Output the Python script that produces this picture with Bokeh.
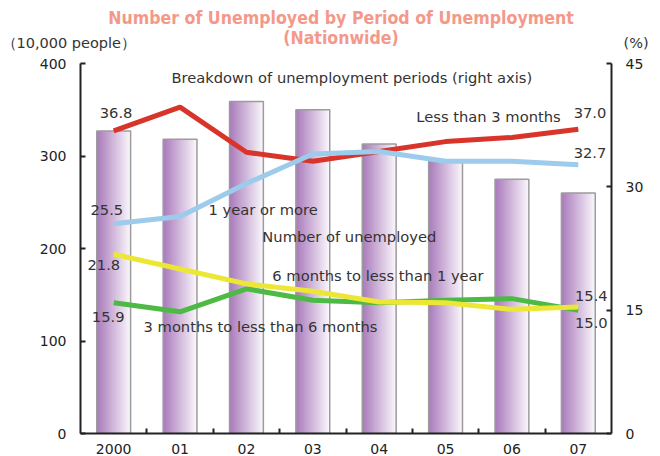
from bokeh.plotting import figure
from bokeh.models import Range1d, LinearAxis, FixedTicker, Label
from bokeh.layouts import column
from bokeh.embed import file_html
from bokeh.resources import INLINE

# ---- data ----
years = ["2000", "01", "02", "03", "04", "05", "06", "07"]
unemployed = [327, 318, 359, 350, 313, 294, 275, 260]          # 10,000 people (left axis)
less_3m = [36.8, 39.7, 34.2, 33.1, 34.3, 35.5, 36.0, 37.0]      # % (right axis)
one_year_plus = [25.5, 26.4, 30.4, 34.0, 34.3, 33.1, 33.1, 32.7]
m6_to_1y = [21.8, 20.0, 18.2, 17.3, 16.0, 15.9, 15.1, 15.4]
m3_to_6m = [15.9, 14.8, 17.6, 16.2, 15.9, 16.2, 16.4, 15.0]
left_ticks = [0, 100, 200, 300, 400]
right_ticks = [0, 15, 30, 45]

xc = [i + 0.5 for i in range(len(years))]

AX = "#222222"
FONT = "DejaVu Sans"
TXT = "#333333"
TITLE = "#f4998a"
W = 658
HEAD_H = 53

# ---- header (title + axis units) ----
head = figure(width=W, height=HEAD_H, x_range=Range1d(0, W), y_range=Range1d(0, HEAD_H),
              output_backend="svg", toolbar_location=None,
              min_border_left=0, min_border_right=0, min_border_top=0, min_border_bottom=0)
head.frame_align = False
head.axis.visible = False
head.xgrid.visible = False
head.ygrid.visible = False
head.outline_line_color = None


def hlab(x, y, s, **kw):
    opts = dict(text_font=FONT, text_font_size="14.5px", text_color=TXT,
                text_align="left", text_baseline="middle")
    opts.update(kw)
    head.add_layout(Label(x=x, y=y, text=s, **opts))


hlab(340.5, 36, "Number of Unemployed by Period of Unemployment", text_align="center",
     text_font="DejaVu Sans Condensed", text_font_style="bold", text_font_size="17.6px",
     text_color=TITLE)
hlab(340.5, 16, "(Nationwide)", text_align="center",
     text_font="DejaVu Sans Condensed", text_font_style="bold", text_font_size="17.6px",
     text_color=TITLE)
hlab(1, 11, "（10,000 people）")
hlab(623, 11, "(%)")

# ---- main chart ----
p = figure(frame_width=531, frame_height=370,
           x_range=Range1d(0, 8), y_range=Range1d(0, 400),
           output_backend="svg", toolbar_location=None,
           min_border_left=80, min_border_top=10, min_border_right=40,
           min_border_bottom=0)
p.frame_align = False
p.xgrid.visible = False
p.ygrid.visible = False
p.outline_line_color = None
p.background_fill_color = "white"

p.extra_y_ranges = {"pct": Range1d(0, 45)}

# left axis
p.yaxis.ticker = FixedTicker(ticks=left_ticks)
p.yaxis.axis_line_color = AX
p.yaxis.axis_line_width = 2
p.yaxis.major_tick_in = 5
p.yaxis.major_tick_out = 0
p.yaxis.major_tick_line_width = 2
p.yaxis.major_tick_line_color = AX
p.yaxis.minor_tick_line_color = None
p.yaxis.major_label_standoff = 14
p.yaxis.major_label_text_font = FONT
p.yaxis.major_label_text_font_size = "14px"
p.yaxis.major_label_text_color = AX

# right axis
ra = LinearAxis(y_range_name="pct", ticker=FixedTicker(ticks=right_ticks))
ra.axis_line_color = AX
ra.axis_line_width = 2
ra.major_tick_in = 5
ra.major_tick_out = 0
ra.major_tick_line_width = 2
ra.major_tick_line_color = AX
ra.minor_tick_line_color = None
ra.major_label_standoff = 14
ra.major_label_text_font = FONT
ra.major_label_text_font_size = "14px"
ra.major_label_text_color = AX
p.add_layout(ra, "right")

# bottom axis
p.xaxis.ticker = FixedTicker(ticks=xc, minor_ticks=[1, 2, 3, 4, 5, 6, 7])
p.xaxis.major_label_overrides = {x: y for x, y in zip(xc, years)}
p.xaxis.axis_line_color = AX
p.xaxis.axis_line_width = 2
p.xaxis.major_tick_line_color = None
p.xaxis.minor_tick_in = 5
p.xaxis.minor_tick_out = 0
p.xaxis.minor_tick_line_width = 2
p.xaxis.minor_tick_line_color = AX
p.xaxis.major_label_standoff = 4
p.xaxis.major_label_text_font = FONT
p.xaxis.major_label_text_font_size = "14px"
p.xaxis.major_label_text_color = AX

# bars with horizontal gradient (overlapping strips, light side on the right)
bw = 0.51
N = 30
c0 = (170, 124, 188)
c1 = (250, 246, 251)
for k in range(N):
    t = k / (N - 1)
    col = "#%02x%02x%02x" % tuple(int(round(a + (b - a) * t)) for a, b in zip(c0, c1))
    lefts = [x - bw / 2 + k * bw / N for x in xc]
    rights = [x + bw / 2 for x in xc]
    p.quad(left=lefts, right=rights, top=unemployed, bottom=0,
           fill_color=col, line_color=None)
p.vbar(x=xc, top=unemployed, bottom=0, width=bw, fill_color=None,
       line_color="#9c9c9c", line_width=1.5)

# lines
p.line(xc, less_3m, line_color="#d8342a", line_width=5, y_range_name="pct")
p.line(xc, one_year_plus, line_color="#9ccbeb", line_width=5, y_range_name="pct")
p.line(xc, m3_to_6m, line_color="#4cba44", line_width=5, y_range_name="pct")
p.line(xc, m6_to_1y, line_color="#ece734", line_width=5, y_range_name="pct")


def lab(x, y, s, **kw):
    opts = dict(text_font=FONT, text_font_size="14.7px", text_color=TXT,
                text_align="left", text_baseline="middle")
    opts.update(kw)
    p.add_layout(Label(x=x, y=y, text=s, **opts))


lab(1.37, 385, "Breakdown of unemployment periods (right axis)")
lab(5.06, 343, "Less than 3 months")
lab(7.43, 346, "%.1f" % less_3m[-1])
lab(0.29, 346, "%.1f" % less_3m[0])
lab(7.43, 303, "%.1f" % one_year_plus[-1])
lab(0.15, 242, "%.1f" % one_year_plus[0])
lab(1.93, 242, "1 year or more")
lab(2.74, 213, "Number of unemployed")
lab(0.105, 182, "%.1f" % m6_to_1y[0])
lab(2.89, 171, "6 months to less than 1 year")
lab(7.45, 149, "%.1f" % m6_to_1y[-1])
lab(7.45, 120, "%.1f" % m3_to_6m[-1])
lab(0.17, 126, "%.1f" % m3_to_6m[0])
lab(0.95, 116, "3 months to less than 6 months")

layout = column(head, p)
open("out.html", "w").write(file_html(layout, INLINE))
